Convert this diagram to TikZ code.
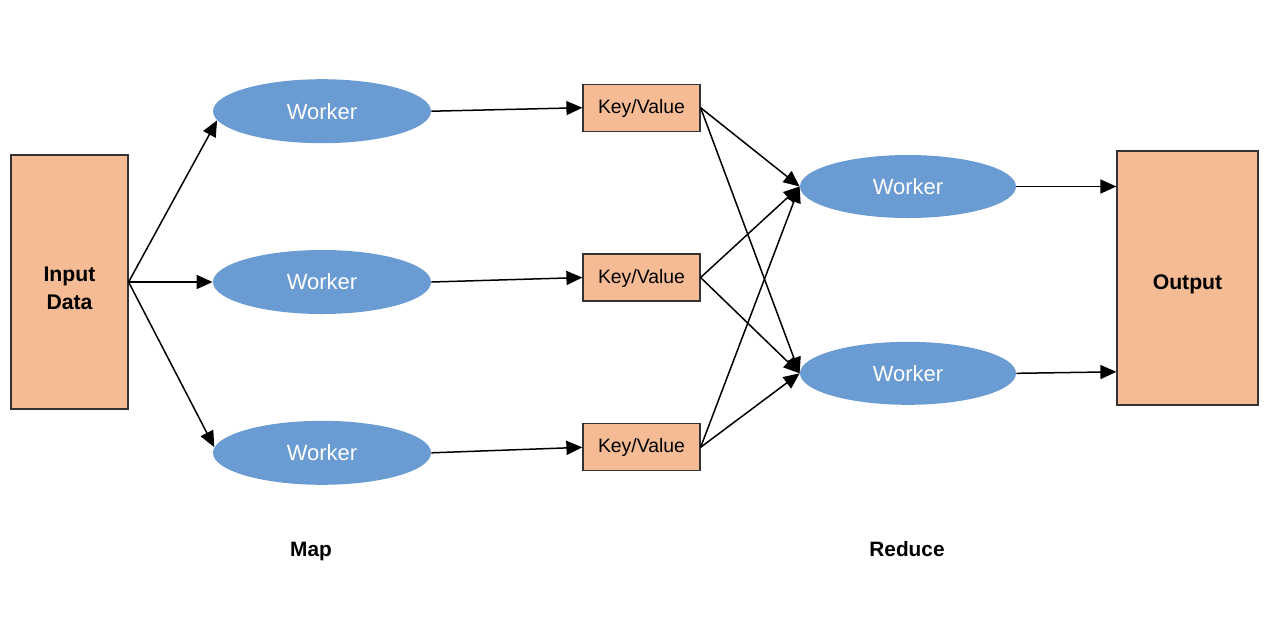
\documentclass[tikz,border=0pt]{standalone}
\usepackage{fontspec}
\setmainfont{Liberation Sans}
\usepackage{tikz}
\usepackage{xcolor}
\usetikzlibrary{shapes.geometric, arrows.meta, positioning}

\definecolor{boxorange}{RGB}{245,187,149}
\definecolor{workerblue}{RGB}{106,155,210}
\definecolor{edgegray}{RGB}{51,51,51}

\tikzset{
  datablock/.style={rectangle, draw=edgegray, line width=0.6pt, fill=boxorange,
    minimum width=58.5pt, minimum height=127pt, inner sep=0pt},
  blocktext/.style={align=center, inner sep=0pt, yshift=-3pt,
    font=\fontsize{10.6pt}{14pt}\selectfont\bfseries},
  worker/.style={ellipse, fill=workerblue, text=white, font=\fontsize{11pt}{13pt}\selectfont,
    minimum width=109pt, minimum height=32pt, inner sep=0pt},
  pair/.style={rectangle, draw=edgegray, line width=0.6pt, fill=boxorange, font=\fontsize{9.7pt}{11pt}\selectfont,
    minimum width=58.5pt, minimum height=23.5pt, inner sep=0pt, text depth=0pt},
  stage/.style={font=\fontsize{10.4pt}{12pt}\selectfont\bfseries},
  flow/.style={-{Triangle[length=8pt,width=7pt]}, line width=0.75pt}
}

\begin{document}
\begin{tikzpicture}
\useasboundingbox (0,0) rectangle (640pt,-314.5pt);

% Input and output
\node[datablock, label={[blocktext]center:Input\\Data}] (input) at (34.75pt,-141pt) {};
\node[datablock, minimum width=70.5pt, label={[blocktext]center:Output}] (output) at (593.75pt,-139pt) {};

% Map workers
\node[worker, right=42pt of input] (mapw2) {Worker};
\node[worker, above=53pt of mapw2] (mapw1) {Worker};
\node[worker, below=53pt of mapw2] (mapw3) {Worker};

% Key/Value pairs
\node[pair, right=75.5pt of mapw1, yshift=1.75pt] (kv1) {\raisebox{1.5pt}{Key/Value}};
\node[pair, right=75.5pt of mapw2, yshift=2.25pt] (kv2) {\raisebox{1.5pt}{Key/Value}};
\node[pair, right=75.5pt of mapw3, yshift=2.75pt] (kv3) {\raisebox{1.5pt}{Key/Value}};

% Reduce workers
\node[worker, minimum width=108pt, minimum height=31.5pt] (redw1) at (454pt,-93.25pt) {Worker};
\node[worker, minimum width=108pt, minimum height=31.5pt, below=61.5pt of redw1] (redw2) {Worker};

% Stage labels
\node[stage] (map) at (155.5pt,-275.5pt) {Map};
\node[stage] (reduce) at (453.5pt,-274.5pt) {Reduce};

% Split
\draw[flow] (input.east) -- (mapw1.185);
\draw[flow] (input.east) -- (mapw2.west);
\draw[flow] (input.east) -- (mapw3.177);

% Map
\draw[flow] (mapw1.east) -- (kv1.west);
\draw[flow] (mapw2.east) -- (kv2.west);
\draw[flow] (mapw3.east) -- (kv3.west);

% Shuffle
\foreach \k in {kv1, kv2, kv3} {
  \draw[flow] (\k.east) -- (redw1.west);
  \draw[flow] (\k.east) -- (redw2.west);
}

% Reduce
\draw[flow] (redw1.east) -- (redw1.east -| output.west);
\draw[flow] (redw2.east) -- ([yshift=0.75pt]redw2.east -| output.west);

\end{tikzpicture}
\end{document}
